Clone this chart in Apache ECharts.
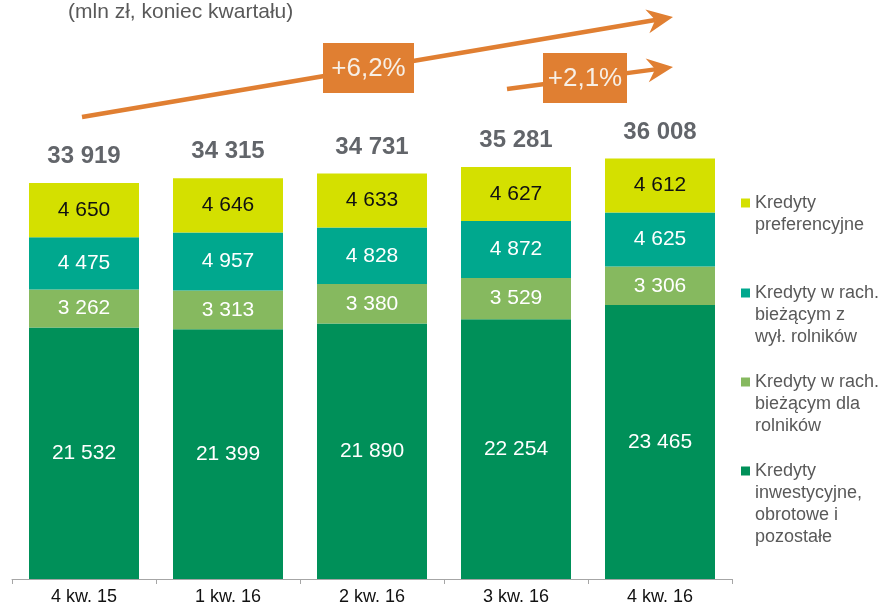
<!DOCTYPE html>
<html>
<head>
<meta charset="utf-8">
<script src="https://cdn.jsdelivr.net/npm/echarts@6/dist/echarts.min.js"></script>
<style>
  html, body { margin: 0; padding: 0; background: #fff; }
  #chart { width: 883px; height: 603px; }
</style>
</head>
<body>
<div id="chart"></div>
<script>
// dane (mln zł, koniec kwartału)
const quarters = ['4 kw. 15', '1 kw. 16', '2 kw. 16', '3 kw. 16', '4 kw. 16'];
const inwestycyjne = [21532, 21399, 21890, 22254, 23465];
const rachRolnicy = [3262, 3313, 3380, 3529, 3306];
const rachBezRolnikow = [4475, 4957, 4828, 4872, 4625];
const preferencyjne = [4650, 4646, 4633, 4627, 4612];
const totals = [33919, 34315, 34731, 35281, 36008];
const growthLabels = ['+6,2%', '+2,1%'];

const names = [
  'Kredyty\ninwestycyjne,\nobrotowe i\npozostałe',
  'Kredyty w rach.\nbieżącym dla\nrolników',
  'Kredyty w rach.\nbieżącym z\nwył. rolników',
  'Kredyty\npreferencyjne'
];
const colors = ['#009059', '#86b95f', '#00a88e', '#d4e000'];
const orange = '#e07f32';
const font = 'Liberation Sans, Arial, sans-serif';

// 33919 -> "33 919"
function fmt(v) {
  return String(v).replace(/\B(?=(\d{3})+(?!\d))/g, ' ');
}

// strzałka: linia + grot
function arrow(x1, y1, x2, y2) {
  const dx = x2 - x1, dy = y2 - y1;
  const len = Math.hypot(dx, dy);
  const ux = dx / len, uy = dy / len, nx = -uy, ny = ux;
  const L = 26, W = 12, N = 8;
  const bx = x2 - ux * L, by = y2 - uy * L;
  const mx = x2 - ux * (L - N), my = y2 - uy * (L - N);
  return [
    { type: 'line', shape: { x1: x1, y1: y1, x2: mx, y2: my }, style: { stroke: orange, lineWidth: 4.5 }, z: 20 },
    { type: 'polygon', shape: { points: [[x2, y2], [bx + nx * W, by + ny * W], [mx, my], [bx - nx * W, by - ny * W]] }, style: { fill: orange }, z: 20 }
  ];
}

function box(x, y, w, h, txt) {
  return [
    { type: 'rect', shape: { x: x, y: y, width: w, height: h }, style: { fill: orange }, z: 21 },
    { type: 'text', x: x + w / 2, y: y + h / 2 + 1, style: { text: txt, fill: '#f7efe6', font: '26px ' + font, align: 'center', verticalAlign: 'middle' }, z: 22 }
  ];
}

// legenda: pierwsza linia tekstu na wysokości kwadracika
// (puste linie na początku przesuwają tekst w dół)
const legendCenters = [203, 293, 382, 471];
const legendOrder = [3, 2, 1, 0];
const legends = legendOrder.map((si, i) => {
  const n = names[si].split('\n').length;
  return {
    data: [names[si]],
    orient: 'vertical',
    left: 741,
    top: legendCenters[i] - 11 - (n - 1) * 22,
    padding: 0,
    icon: 'rect',
    itemWidth: 9,
    itemHeight: 9,
    selectedMode: false,
    formatter: name => '\n'.repeat(n - 1) + name,
    textStyle: { fontFamily: font, fontSize: 18, lineHeight: 22, color: '#595959' }
  };
});

const stacks = [inwestycyjne, rachRolnicy, rachBezRolnikow, preferencyjne];

const chart = echarts.init(document.getElementById('chart'));
chart.setOption({
  animation: false,
  title: {
    text: '(mln zł, koniec kwartału)',
    left: 68,
    top: 2,
    padding: 0,
    textStyle: { fontFamily: font, fontSize: 21, fontWeight: 'normal', color: '#595959' }
  },
  legend: legends,
  grid: { left: 12, right: 151, top: 112, bottom: 24, outerBoundsMode: 'none', containLabel: false },
  xAxis: {
    type: 'category',
    data: quarters,
    axisLine: { lineStyle: { color: '#a6a6a6', width: 1 } },
    axisTick: { show: true, length: 5, lineStyle: { color: '#a6a6a6' } },
    axisLabel: { color: '#111', fontFamily: font, fontSize: 18, margin: 9 }
  },
  yAxis: {
    type: 'value',
    min: 0,
    max: 40000,
    show: false,
    splitLine: { show: false }
  },
  series: stacks.map((vals, i) => ({
    name: names[i],
    type: 'bar',
    stack: 'total',
    barWidth: 110,
    data: vals,
    itemStyle: { color: colors[i] },
    label: {
      show: true,
      position: 'inside',
      formatter: p => fmt(p.value),
      fontFamily: font,
      fontSize: 21,
      color: i === 3 ? '#111' : '#fff'
    }
  })).concat([{
    type: 'scatter',
    data: totals,
    symbolSize: 1,
    itemStyle: { color: 'rgba(0,0,0,0)' },
    silent: true,
    z: 10,
    label: {
      show: true,
      position: 'top',
      distance: 14,
      formatter: p => fmt(p.value),
      fontFamily: font,
      fontSize: 24,
      fontWeight: 'bold',
      color: '#3b3f45'
    }
  }]),
  graphic: [].concat(
    arrow(82, 117, 673, 17),
    arrow(507, 89, 673, 67),
    box(323, 43, 91, 50, growthLabels[0]),
    box(543, 53, 84, 50, growthLabels[1])
  )
});
</script>
</body>
</html>
